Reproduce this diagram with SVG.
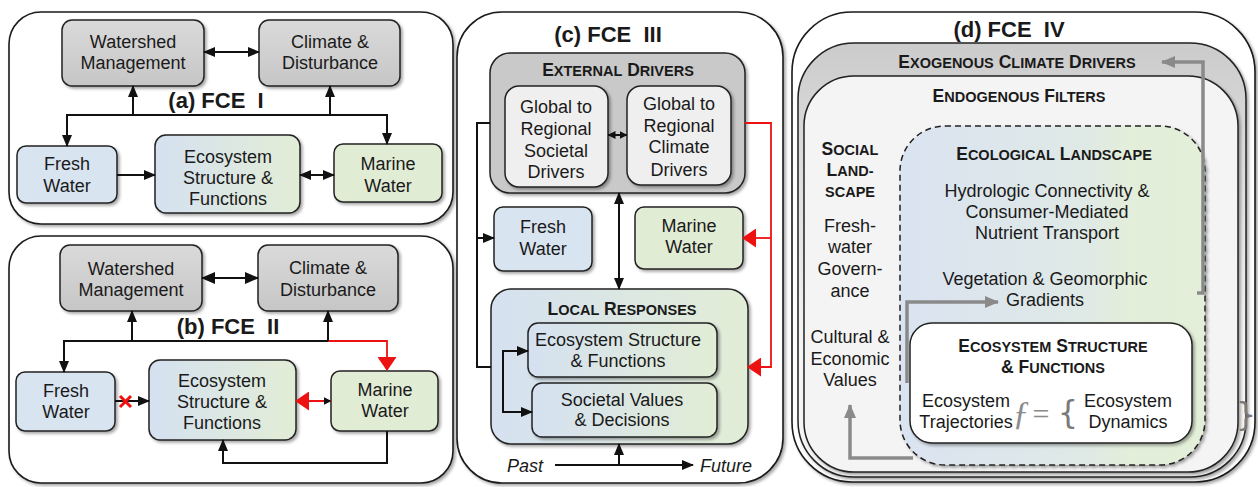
<svg xmlns="http://www.w3.org/2000/svg" width="1258" height="487" viewBox="0 0 1258 487">
<style>
.t{font-family:"Liberation Sans",Arial,sans-serif;font-size:18px;fill:#1a1a1a;text-anchor:middle}
.ttl{font-weight:bold;font-size:22px}
.sc{font-weight:bold;font-size:17.5px}
.s{font-size:14.5px}
.it{font-style:italic;text-anchor:start}
.box{stroke:#222;stroke-width:1.5}
.panel{fill:#fff;stroke:#1a1a1a;stroke-width:1.6}
.gray{fill:url(#gGray)}
.blue{fill:#d9e4f1}
.green{fill:#e1ecd5}
.bg{fill:url(#gBG)}
.ln{fill:none;stroke:#111;stroke-width:2}
.red{fill:none;stroke:#ee1111;stroke-width:1.8}
.gl{fill:none;stroke:#8a8a8a;stroke-width:3.5}
.sym{font-family:"Liberation Serif","Times New Roman",serif;fill:#8a8a8a;text-anchor:middle}
.br{font-family:"DejaVu Sans","Liberation Sans",sans-serif;fill:#7a7a7a;text-anchor:middle}
</style>
<defs>
<filter id="sh" x="-10%" y="-10%" width="125%" height="125%">
<feDropShadow dx="2" dy="2" stdDeviation="1.6" flood-color="#000" flood-opacity="0.35"/>
</filter>
<linearGradient id="gGray" x1="0" y1="0" x2="0" y2="1"><stop offset="0" stop-color="#dadada"/><stop offset="1" stop-color="#c6c6c6"/></linearGradient>
<linearGradient id="gBG" x1="0" y1="0" x2="1" y2="0"><stop offset="0" stop-color="#d5e1f0"/><stop offset="1" stop-color="#e2edd6"/></linearGradient>
<linearGradient id="gEco" x1="0" y1="0" x2="1" y2="0"><stop offset="0" stop-color="#dae3f1"/><stop offset="0.6" stop-color="#dfe9e6"/><stop offset="0.75" stop-color="#e3eedb"/><stop offset="1" stop-color="#e3efd8"/></linearGradient>
<linearGradient id="gExo" x1="0" y1="0" x2="0" y2="1"><stop offset="0" stop-color="#cbcbcb"/><stop offset="0.25" stop-color="#dcdcdc"/><stop offset="0.7" stop-color="#f4f4f4"/><stop offset="1" stop-color="#f6f6f6"/></linearGradient>
<marker id="ah" viewBox="0 0 12 10" markerWidth="12" markerHeight="10" refX="11" refY="5" orient="auto-start-reverse" markerUnits="userSpaceOnUse"><path d="M0,0 L12,5 L0,10 z" fill="#111"/></marker>
<marker id="ahb" viewBox="0 0 14 12" markerWidth="14" markerHeight="12" refX="13" refY="6" orient="auto-start-reverse" markerUnits="userSpaceOnUse"><path d="M0,0 L14,6 L0,12 z" fill="#111"/></marker>
<marker id="ahs" viewBox="0 0 8 8" markerWidth="8" markerHeight="8" refX="7.5" refY="4" orient="auto-start-reverse" markerUnits="userSpaceOnUse"><path d="M0,0 L8,4 L0,8 z" fill="#111"/></marker>
<marker id="ahr" viewBox="0 0 14 19" markerWidth="14" markerHeight="19" refX="13" refY="9.5" orient="auto-start-reverse" markerUnits="userSpaceOnUse"><path d="M0,0 L14,9.5 L0,19 z" fill="#ee1111"/></marker>
<marker id="ahg" viewBox="0 0 14 12" markerWidth="14" markerHeight="12" refX="13" refY="6" orient="auto-start-reverse" markerUnits="userSpaceOnUse"><path d="M0,0 L14,6 L0,12 z" fill="#8a8a8a"/></marker>
</defs>

<!-- panel frames -->
<g id="panel-a"><rect class="panel" filter="url(#sh)" x="9" y="12" width="444" height="212" rx="32"/>
<text class="t ttl" x="216" y="108" xml:space="preserve">(a) FCE  I</text></g>
<g id="panel-b"><rect class="panel" filter="url(#sh)" x="9" y="236" width="444" height="247" rx="32"/>
<text class="t ttl" x="228" y="334" xml:space="preserve">(b) FCE  II</text></g>
<g id="panel-c"><rect class="panel" filter="url(#sh)" x="457" y="12" width="326" height="471" rx="45"/>
<text class="t ttl" x="608" y="42" xml:space="preserve">(c) FCE  III</text></g>
<g id="panel-d"><rect class="panel" filter="url(#sh)" x="792" y="12" width="463" height="470" rx="60"/>
<text class="t ttl" x="1009" y="37" xml:space="preserve">(d) FCE  IV</text></g>

<!-- panel a nodes -->
<g id="a-watershed"><rect class="box gray" filter="url(#sh)" x="62" y="20" width="142" height="66" rx="10"/>
<text class="t" x="133" y="48">Watershed</text><text class="t" x="133" y="69">Management</text></g>
<g id="a-climate"><rect class="box gray" filter="url(#sh)" x="259" y="20" width="141" height="66" rx="10"/>
<text class="t" x="330" y="48">Climate &amp;</text><text class="t" x="330" y="69">Disturbance</text></g>
<g id="a-fresh"><rect class="box blue" filter="url(#sh)" x="17" y="146" width="100" height="57" rx="9"/>
<text class="t" x="67" y="170">Fresh</text><text class="t" x="67" y="192">Water</text></g>
<g id="a-eco"><rect class="box bg" filter="url(#sh)" x="155" y="135" width="145" height="78" rx="11"/>
<text class="t" x="228" y="163">Ecosystem</text><text class="t" x="228" y="184">Structure &amp;</text><text class="t" x="228" y="205">Functions</text></g>
<g id="a-marine"><rect class="box green" filter="url(#sh)" x="334" y="144" width="108" height="58" rx="9"/>
<text class="t" x="388" y="170">Marine</text><text class="t" x="388" y="192">Water</text></g>

<!-- panel b nodes -->
<g id="b-watershed"><rect class="box gray" filter="url(#sh)" x="60" y="245" width="142" height="66" rx="10"/>
<text class="t" x="131" y="275">Watershed</text><text class="t" x="131" y="296">Management</text></g>
<g id="b-climate"><rect class="box gray" filter="url(#sh)" x="258" y="245" width="140" height="66" rx="10"/>
<text class="t" x="328" y="274">Climate &amp;</text><text class="t" x="328" y="296">Disturbance</text></g>
<g id="b-fresh"><rect class="box blue" filter="url(#sh)" x="16" y="372" width="99" height="59" rx="9"/>
<text class="t" x="66" y="397">Fresh</text><text class="t" x="66" y="418">Water</text></g>
<g id="b-eco"><rect class="box bg" filter="url(#sh)" x="149" y="360" width="147" height="80" rx="11"/>
<text class="t" x="222" y="387">Ecosystem</text><text class="t" x="222" y="408">Structure &amp;</text><text class="t" x="222" y="429">Functions</text></g>
<g id="b-marine"><rect class="box green" filter="url(#sh)" x="331" y="371" width="107" height="60" rx="9"/>
<text class="t" x="385" y="396">Marine</text><text class="t" x="385" y="417">Water</text></g>

<!-- panel c nodes -->
<g id="c-external"><rect class="box" fill="#c9c9c9" filter="url(#sh)" x="490" y="53" width="255" height="140" rx="20"/>
<text class="t sc" x="618" y="76">E<tspan class="s">XTERNAL</tspan> D<tspan class="s">RIVERS</tspan></text></g>
<g id="c-societal-drivers"><rect class="box" fill="#efefef" filter="url(#sh)" x="505" y="86" width="103" height="101" rx="14"/>
<text class="t" x="556" y="113">Global to</text><text class="t" x="556" y="135">Regional</text><text class="t" x="556" y="157">Societal</text><text class="t" x="556" y="178">Drivers</text></g>
<g id="c-climate-drivers"><rect class="box" fill="#efefef" filter="url(#sh)" x="627" y="86" width="104" height="99" rx="14"/>
<text class="t" x="679" y="110">Global to</text><text class="t" x="679" y="132">Regional</text><text class="t" x="679" y="153">Climate</text><text class="t" x="679" y="176">Drivers</text></g>
<g id="c-fresh"><rect class="box blue" filter="url(#sh)" x="494" y="207" width="98" height="64" rx="9"/>
<text class="t" x="543" y="233">Fresh</text><text class="t" x="543" y="255">Water</text></g>
<g id="c-marine"><rect class="box green" filter="url(#sh)" x="635" y="207" width="108" height="62" rx="9"/>
<text class="t" x="689" y="232">Marine</text><text class="t" x="689" y="253">Water</text></g>
<g id="c-local"><rect class="box bg" filter="url(#sh)" x="491" y="289" width="257" height="155" rx="20"/>
<text class="t sc" x="622" y="315">L<tspan class="s">OCAL</tspan> R<tspan class="s">ESPONSES</tspan></text></g>
<g id="c-eco"><rect class="box bg" filter="url(#sh)" x="528" y="323" width="189" height="54" rx="10"/>
<text class="t" x="618" y="346">Ecosystem Structure</text><text class="t" x="618" y="367">&amp; Functions</text></g>
<g id="c-societal"><rect class="box bg" filter="url(#sh)" x="532" y="383" width="185" height="54" rx="10"/>
<text class="t" x="622" y="406">Societal Values</text><text class="t" x="622" y="426">&amp; Decisions</text></g>
<g id="c-time"><text class="t it" x="507" y="472">Past</text><text class="t it" x="700" y="472">Future</text></g>

<!-- panel d nodes -->
<g id="d-exogenous"><rect class="box" fill="url(#gExo)" filter="url(#sh)" x="798" y="43" width="448" height="434" rx="56"/>
<text class="t sc" x="1017" y="68">E<tspan class="s">XOGENOUS</tspan> C<tspan class="s">LIMATE</tspan> D<tspan class="s">RIVERS</tspan></text></g>
<g id="d-endogenous"><rect class="box" fill="#f4f4f4" filter="url(#sh)" x="804" y="76" width="434" height="396" rx="50"/>
<text class="t sc" x="1019" y="102">E<tspan class="s">NDOGENOUS</tspan> F<tspan class="s">ILTERS</tspan></text></g>
<g id="d-social">
<text class="t sc" x="850" y="155">S<tspan class="s">OCIAL</tspan></text>
<text class="t sc" x="850" y="176">L<tspan class="s">AND-</tspan></text>
<text class="t sc s" x="850" y="197">SCAPE</text>
<text class="t" x="850" y="232">Fresh-</text><text class="t" x="850" y="253">water</text><text class="t" x="850" y="275">Govern-</text><text class="t" x="850" y="297">ance</text>
<text class="t" x="850" y="343">Cultural &amp;</text><text class="t" x="850" y="365">Economic</text><text class="t" x="850" y="386">Values</text></g>
<g id="d-ecological"><rect fill="url(#gEco)" stroke="#222" stroke-width="1.5" stroke-dasharray="6 4" filter="url(#sh)" x="900" y="126" width="305" height="339" rx="45"/>
<text class="t sc" x="1054" y="160">E<tspan class="s">COLOGICAL</tspan> L<tspan class="s">ANDSCAPE</tspan></text>
<text class="t" x="1047" y="197">Hydrologic Connectivity &amp;</text><text class="t" x="1047" y="218">Consumer-Mediated</text><text class="t" x="1047" y="239">Nutrient Transport</text>
<text class="t" x="1045" y="285">Vegetation &amp; Geomorphic</text><text class="t" x="1045" y="306">Gradients</text></g>
<g id="d-eco"><rect class="box" fill="#fff" filter="url(#sh)" x="910" y="323" width="282" height="120" rx="22"/>
<text class="t sc" x="1053" y="352">E<tspan class="s">COSYSTEM</tspan> S<tspan class="s">TRUCTURE</tspan></text>
<text class="t sc" x="1053" y="373">&amp; F<tspan class="s">UNCTIONS</tspan></text>
<text class="t" x="966" y="407">Ecosystem</text><text class="t" x="966" y="428">Trajectories</text>
<text class="sym" x="1021" y="424" font-size="34" font-style="italic">ƒ</text>
<text class="sym" x="1041" y="424" font-size="30">=</text>
<text class="br" x="1068" y="423" font-size="32">{</text>
<text class="t" x="1128" y="407">Ecosystem</text><text class="t" x="1128" y="428">Dynamics</text></g>
<g id="d-brace"><text class="br" x="1246" y="425" font-size="32">}</text></g>

<!-- connectors -->
<g id="connectors">
<!-- a -->
<path class="ln" d="M204,52 H259" marker-start="url(#ah)" marker-end="url(#ah)"/>
<path class="ln" d="M67,146 V115 H387 V144" marker-start="url(#ah)" marker-end="url(#ah)"/>
<path class="ln" d="M133,115 V86" marker-end="url(#ah)"/>
<path class="ln" d="M330,115 V86" marker-end="url(#ah)"/>
<path class="ln" d="M117,175 H155" marker-end="url(#ah)"/>
<path class="ln" d="M300,175 H334" marker-start="url(#ah)" marker-end="url(#ah)"/>
<!-- b -->
<path class="ln" stroke-width="3" d="M202,278 H258" marker-start="url(#ahb)" marker-end="url(#ahb)"/>
<path class="ln" d="M328,341 H64 V372" marker-end="url(#ah)"/>
<path class="red" d="M328,341 H387 V370" marker-end="url(#ahr)"/>
<path class="ln" d="M132,341 V311" marker-end="url(#ah)"/>
<path class="ln" d="M328,341 V311" marker-end="url(#ah)"/>
<path class="ln" d="M115,401 H149" marker-end="url(#ah)"/>
<path d="M120,396 L131,407 M120,407 L131,396" stroke="#ee1111" stroke-width="3" fill="none"/>
<path class="red" d="M331,401 H296" marker-start="url(#ahs)" marker-end="url(#ahr)"/>
<path class="ln" d="M387,431 V463 H223 V440" marker-end="url(#ah)"/>
<!-- c -->
<path class="ln" d="M619,193 V289" marker-start="url(#ah)" marker-end="url(#ah)"/>
<path class="ln" d="M608,135 H627" marker-start="url(#ahs)" marker-end="url(#ahs)"/>
<path class="ln" d="M490,123 H477 V367 H491"/>
<path class="ln" d="M477,238 H494" marker-end="url(#ah)"/>
<path class="red" d="M745,123 H771 V367 H748" marker-end="url(#ahr)"/>
<path class="red" d="M771,238 H743" marker-end="url(#ahr)"/>
<path class="ln" d="M528,351 H503 V412 H532" marker-start="url(#ah)" marker-end="url(#ah)"/>
<path class="ln" d="M555,465 H693" marker-end="url(#ah)"/>
<path class="ln" d="M619,465 V444" marker-end="url(#ah)"/>
<!-- d -->
<path class="gl" d="M1197,293 H1203 V62 H1162" marker-end="url(#ahg)"/>
<path class="gl" d="M907,383 V302 H998" marker-end="url(#ahg)"/>
<path class="gl" d="M913,458 H850 V405" marker-end="url(#ahg)"/>
</g>
</svg>
